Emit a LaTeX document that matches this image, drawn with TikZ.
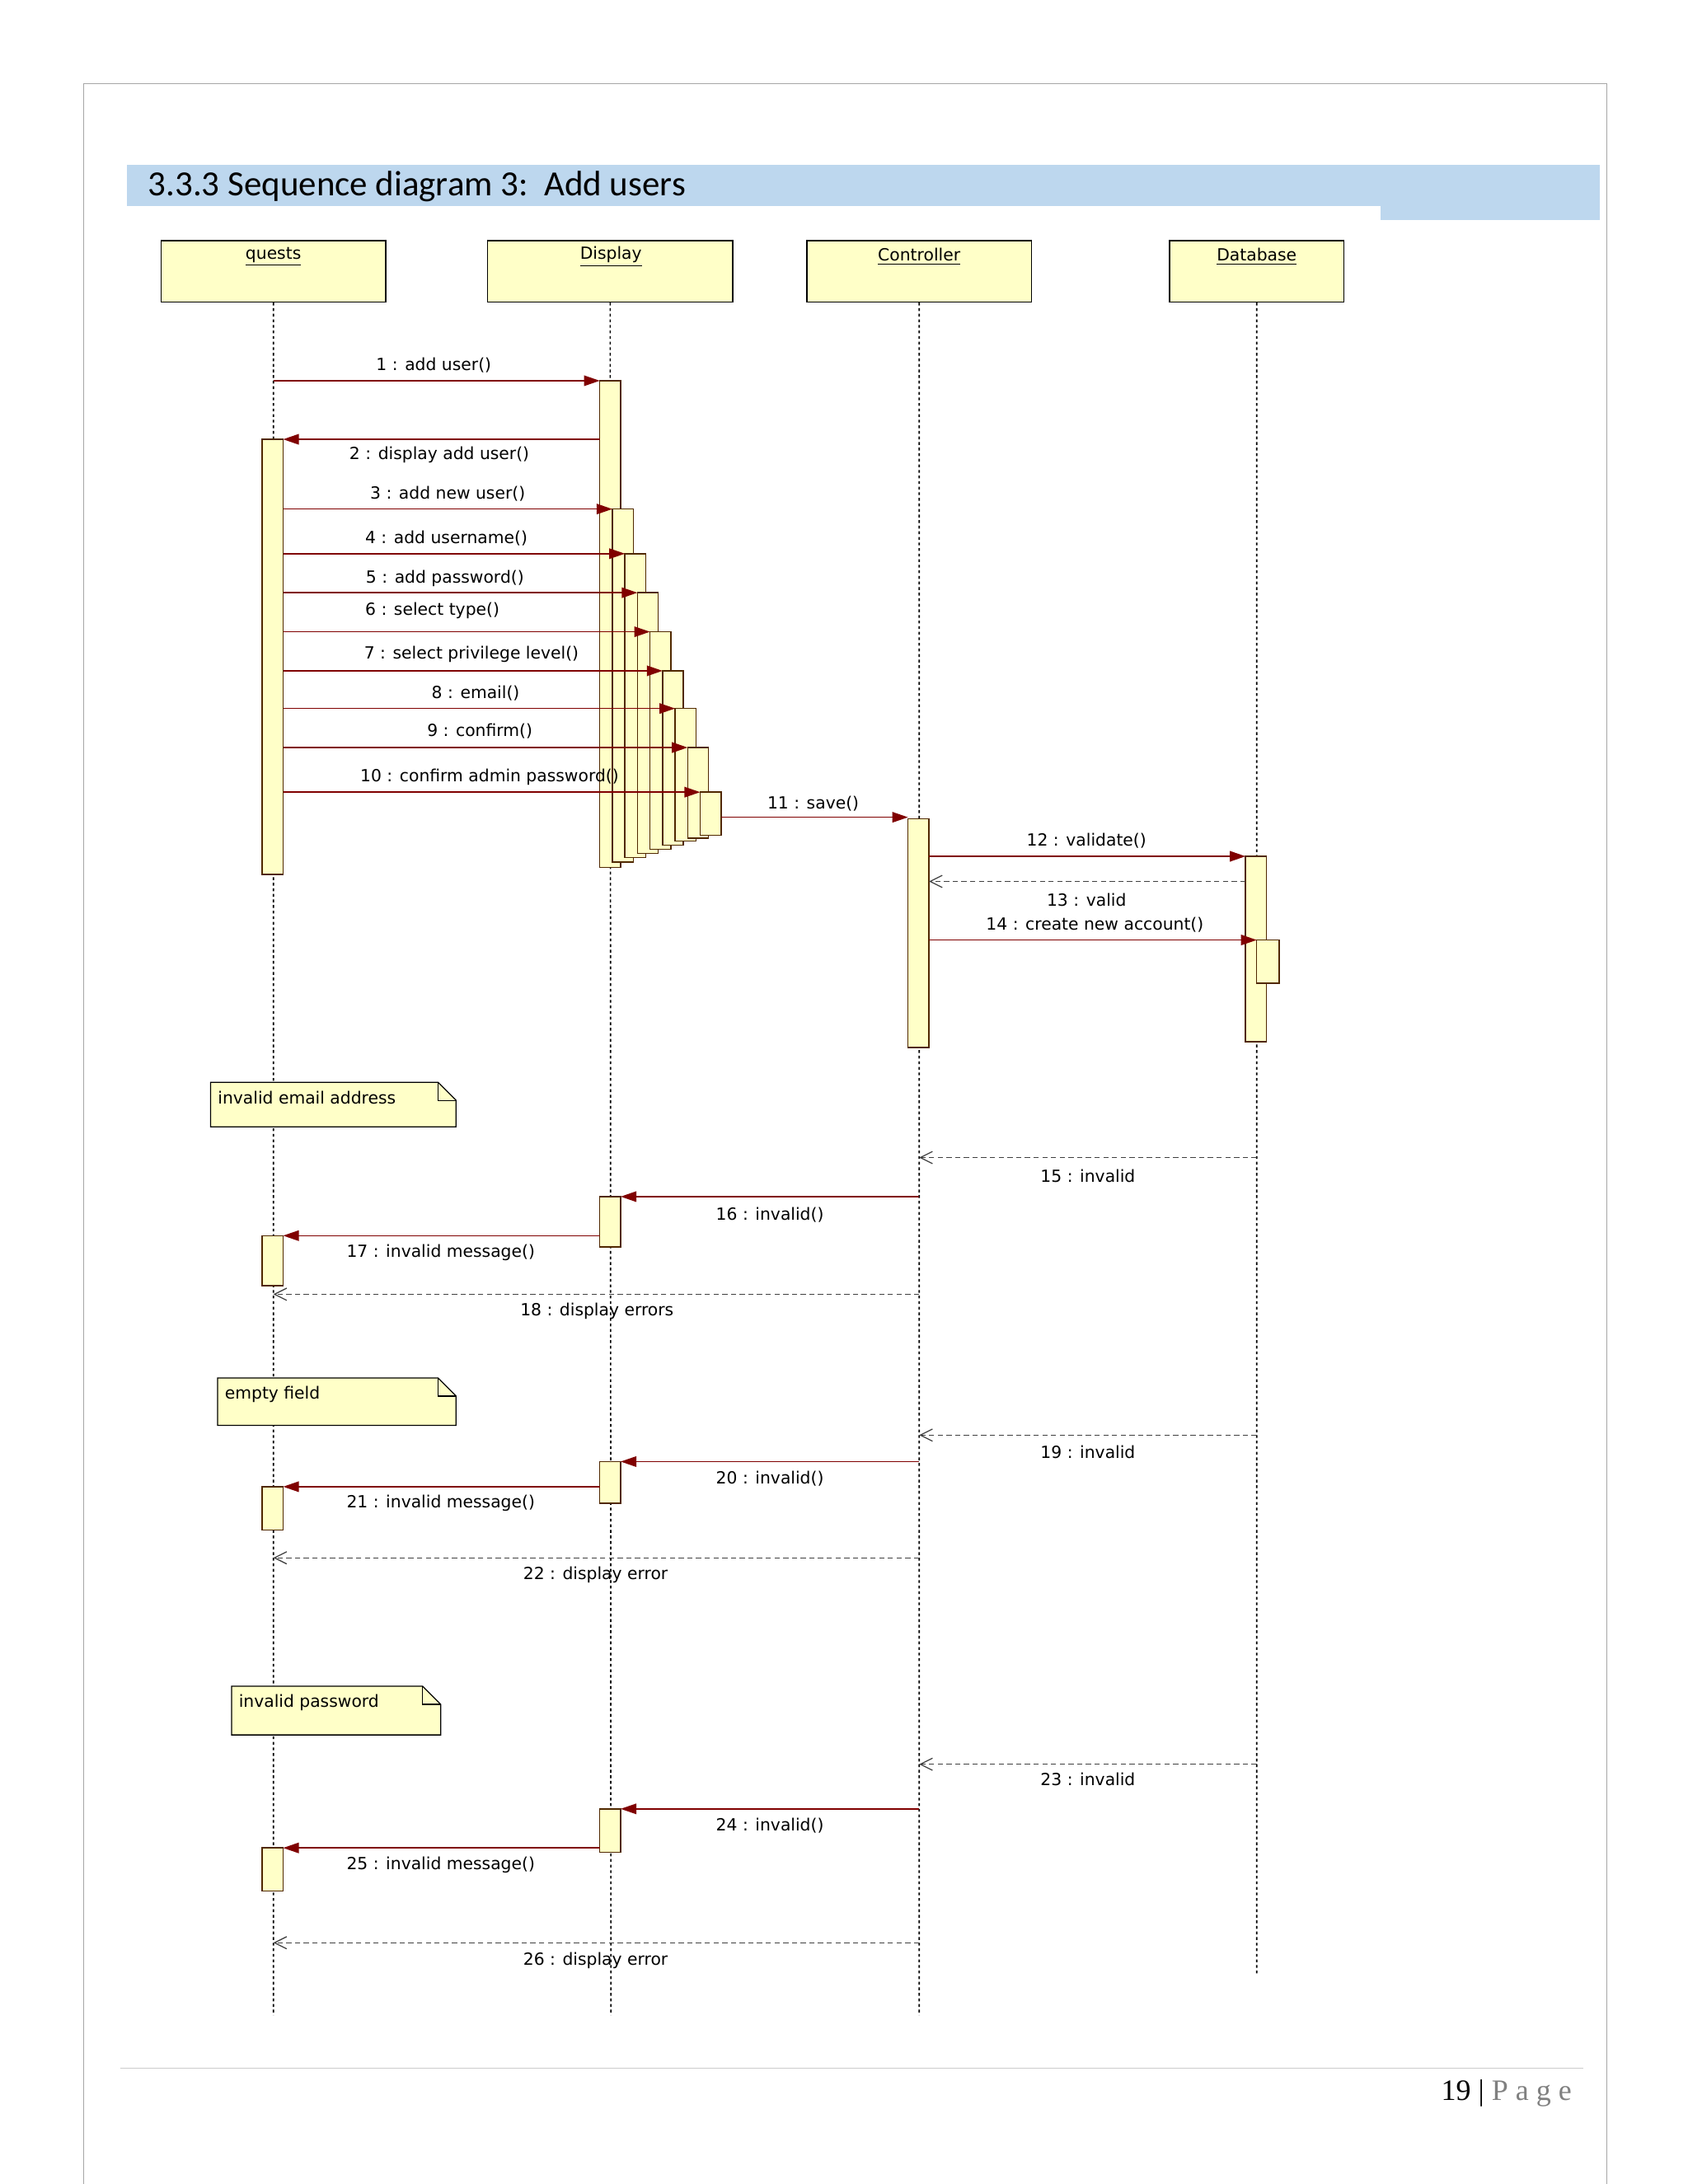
\documentclass[tikz,border=0pt]{standalone}
\usepackage{fontspec}
\setmainfont{DejaVu Sans}
\newfontfamily\titlefont{Carlito}
\newfontfamily\serifft{Liberation Serif}
\usetikzlibrary{arrows.meta}
\definecolor{actfill}{RGB}{255,255,200}
\definecolor{actdraw}{RGB}{80,40,0}
\definecolor{msg}{RGB}{128,0,0}
\definecolor{band}{RGB}{189,215,238}
\tikzset{
  head/.style={draw=black,fill=actfill,line width=0.8pt},
  actbox/.style={draw=actdraw,fill=actfill,line width=0.7pt},
  life/.style={black,dash pattern=on 1.6pt off 1.6pt,line width=0.8pt},
  call/.style={msg,line width=0.7pt,-{Triangle[length=9pt,width=6pt]}},
  reply/.style={black!75,line width=0.6pt,dash pattern=on 3pt off 2pt,-{Straight Barb[length=7pt,width=7pt]}},
  lbl/.style={font=\fontsize{9.6}{11}\selectfont,inner sep=0pt},
  notebox/.style={draw=black,fill=actfill,line width=0.6pt}
}
\newcommand{\actv}[4]{\draw[actbox] (#1,#2) rectangle (#3,#4);}
\newcommand{\note}[5]{\draw[notebox] (#1,#2) -- (#3-13,#2) -- (#3,#2+13) -- (#3,#4) -- (#1,#4) -- cycle;
  \draw[black,line width=0.6pt] (#3-13,#2) -- (#3-13,#2+13) -- (#3,#2+13);
  \node[lbl,anchor=north west] at (#1+5,#2+6) {#5};}
\begin{document}
\begin{tikzpicture}[x=0.8pt,y=-0.8pt]
\useasboundingbox (0,0) rectangle (1210,1566);
\fill[white] (0,0) rectangle (1210,1566);
% page frame
\draw[gray!70,line width=0.8pt] (60,1570) -- (60,60) -- (1152,60) -- (1152,1570);
% title band
\fill[band] (91,118) rectangle (1147,148);
\fill[band] (990,148) rectangle (1147,158);
\node[anchor=west,inner sep=0pt,font=\titlefont\fontsize{20.3}{22}\selectfont] (title) at (106,134) {3.3.3 Sequence diagram 3:\ \ Add users};
% heads
\node[head,minimum width=161*0.8pt,minimum height=44*0.8pt,anchor=north west] (g) at (115,172) {};
\node[head,minimum width=176*0.8pt,minimum height=44*0.8pt,anchor=north west] (d) at (349,172) {};
\node[head,minimum width=161*0.8pt,minimum height=44*0.8pt,anchor=north west] (c) at (578,172) {};
\node[head,minimum width=125*0.8pt,minimum height=44*0.8pt,anchor=north west] (b) at (838,172) {};
\node[lbl] at (196,184) {\underline{quests}};
\node[lbl] at (438,184) {\underline{Display}};
\node[lbl] at (659,184) {\underline{Controller}};
\node[lbl] at (901,184) {\underline{Database}};
% lifelines
\draw[life] (g.south) -- (196,1445);
\draw[life] (d.south) -- (438,1445);
\draw[life] (c.south) -- (659,1445);
\draw[life] (b.south) -- (901,1415);
% activations
\actv{430}{273}{445}{622}
\actv{188}{315}{203}{627}
\foreach \k/\t/\bt in {1/365/618,2/397/615,3/425/612,4/453/609,5/481/606,6/508/603,7/536/601,8/568/599}{
  \actv{430+9*\k}{\t}{445+9*\k}{\bt}
}
\actv{651}{587}{666}{751}
\actv{893}{614}{908}{747}
\actv{901}{674}{917}{705}
% messages
\draw[call] (196,273) -- (430,273); \node[lbl] at (311,262) {1 : add user()};
\draw[call] (430,315) -- (203,315); \node[lbl] at (315,326) {2 : display add user()};
\foreach \k/\y/\ly/\txt/\lx in {1/365/354/{3 : add new user()}/321,2/397/386/{4 : add username()}/320,3/425/415/{5 : add password()}/319,4/453/438/{6 : select type()}/310,5/481/469/{7 : select privilege level()}/338,6/508/497/{8 : email()}/341,7/536/524/{9 : confirm()}/344,8/568/557/{10 : confirm admin password()}/351}{
  \draw[call] (203,\y) -- (430+9*\k,\y);
  \node[lbl] at (\lx,\ly) {\txt};
}
\draw[call] (517,586) -- (651,586); \node[lbl] at (583,576) {11 : save()};
\draw[call] (666,614) -- (893,614); \node[lbl] at (779,603) {12 : validate()};
\draw[reply] (893,632) -- (666,632); \node[lbl] at (779,645) {13 : valid};
\draw[call] (666,674) -- (901,674); \node[lbl] at (785,663) {14 : create new account()};
% block 1
\note{151}{776}{327}{808}{invalid email address}
\draw[reply] (901,830) -- (659,830); \node[lbl] at (780,843) {15 : invalid};
\actv{430}{858}{445}{894}
\draw[call] (659,858) -- (445,858); \node[lbl] at (552,871) {16 : invalid()};
\actv{188}{886}{203}{922}
\draw[call] (430,886) -- (203,886); \node[lbl] at (316,898) {17 : invalid message()};
\draw[reply] (659,928) -- (196,928); \node[lbl] at (428,940) {18 : display errors};
% block 2
\note{156}{988}{327}{1022}{empty field}
\draw[reply] (901,1029) -- (659,1029); \node[lbl] at (780,1041) {19 : invalid};
\actv{430}{1048}{445}{1078}
\draw[call] (659,1048) -- (445,1048); \node[lbl] at (552,1060) {20 : invalid()};
\actv{188}{1066}{203}{1097}
\draw[call] (430,1066) -- (203,1066); \node[lbl] at (316,1078) {21 : invalid message()};
\draw[reply] (659,1117) -- (196,1117); \node[lbl] at (427,1129) {22 : display error};
% block 3
\note{166}{1209}{316}{1244}{invalid password}
\draw[reply] (901,1265) -- (659,1265); \node[lbl] at (780,1276) {23 : invalid};
\actv{430}{1297}{445}{1328}
\draw[call] (659,1297) -- (445,1297); \node[lbl] at (552,1309) {24 : invalid()};
\actv{188}{1325}{203}{1356}
\draw[call] (430,1325) -- (203,1325); \node[lbl] at (316,1337) {25 : invalid message()};
\draw[reply] (659,1393) -- (196,1393); \node[lbl] at (427,1406) {26 : display error};
% footer
\draw[gray!40,line width=0.6pt] (86,1483) -- (1135,1483);
\node[anchor=east,inner sep=0pt,font=\serifft\fontsize{17}{19}\selectfont] (pg) at (1127,1501) {19 | \textcolor{gray}{P a g e}};
\end{tikzpicture}
\end{document}
